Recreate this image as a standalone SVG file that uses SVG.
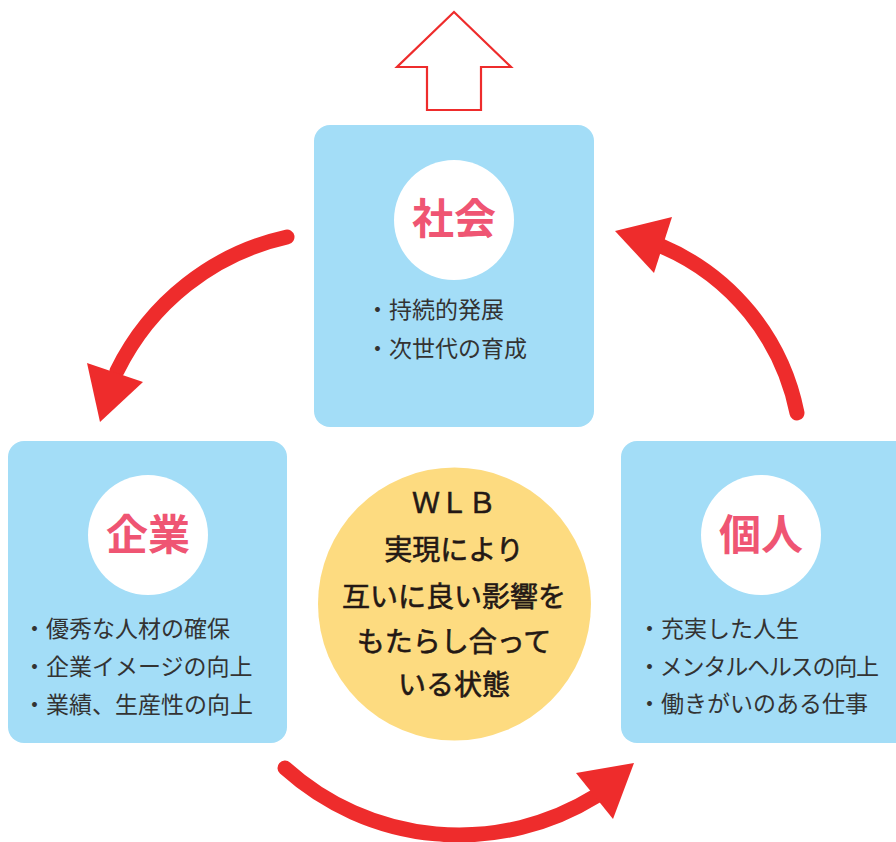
<svg xmlns="http://www.w3.org/2000/svg" width="896" height="842" viewBox="0 0 896 842">
<defs>
<style>
.box{fill:#a3ddf7}
.badge{fill:#ffffff}
.title{font-family:"Noto Sans CJK JP","Noto Sans",sans-serif;font-size:42px;font-weight:700;fill:#ef5573;text-anchor:middle}
.item{font-family:"Noto Sans CJK JP","Noto Sans",sans-serif;font-size:23px;fill:#333333}
.center{font-family:"Noto Sans CJK JP","Noto Sans",sans-serif;font-size:28px;font-weight:400;fill:#231815;stroke:#231815;stroke-width:0.6;text-anchor:middle}
.arc{fill:none;stroke:#ee2c2c;stroke-width:15;stroke-linecap:round}
.head{fill:#ee2c2c}
</style>
</defs>
<rect width="896" height="842" fill="#ffffff"/>
<g id="up-arrow">
<polygon points="454,12 511,67 481,67 481,110 427,110 427,67 397,67" fill="#ffffff" stroke="#ee2c2c" stroke-width="2.2" stroke-linejoin="miter"/>
</g>
<g id="society">
<rect class="box" x="314" y="125" width="280" height="302" rx="16"/>
<circle class="badge" cx="454" cy="220" r="60"/>
<text class="title" x="454" y="234">社会</text>
<text class="item" x="366" y="318">・持続的発展</text>
<text class="item" x="366" y="357">・次世代の育成</text>
</g>
<g id="company">
<rect class="box" x="8" y="441" width="279" height="302" rx="16"/>
<circle class="badge" cx="148" cy="535" r="60"/>
<text class="title" x="148" y="550">企業</text>
<text class="item" x="23" y="637">・優秀な人材の確保</text>
<text class="item" x="23" y="675">・企業イメージの向上</text>
<text class="item" x="23" y="713">・業績、生産性の向上</text>
</g>
<g id="individual">
<rect class="box" x="621" y="441" width="295" height="302" rx="16"/>
<circle class="badge" cx="761" cy="535" r="60"/>
<text class="title" x="761" y="550">個人</text>
<text class="item" x="638" y="637">・充実した人生</text>
<text class="item" x="638" y="675" textLength="241" lengthAdjust="spacing">・メンタルヘルスの向上</text>
<text class="item" x="638" y="712">・働きがいのある仕事</text>
</g>
<g id="wlb">
<circle cx="454.5" cy="604" r="136.5" fill="#fddb80"/>
<text class="center" x="454" y="513">ＷＬＢ</text>
<text class="center" x="454" y="560">実現により</text>
<text class="center" x="454" y="607">互いに良い影響を</text>
<text class="center" x="454" y="652">もたらし合って</text>
<text class="center" x="454" y="695">いる状態</text>
</g>
<g id="connectors">
<path class="arc" d="M287,237 A250,250 0 0 0 117,371"/>
<polygon class="head" points="87,363 143,382 100,422"/>
<path class="arc" d="M797,413 A230,230 0 0 0 661,246"/>
<polygon class="head" points="615,231 672,217 654,273"/>
<path class="arc" d="M285,768 A260,260 0 0 0 596,796"/>
<polygon class="head" points="576,773 634,763 613,819"/>
</g>
</svg>
